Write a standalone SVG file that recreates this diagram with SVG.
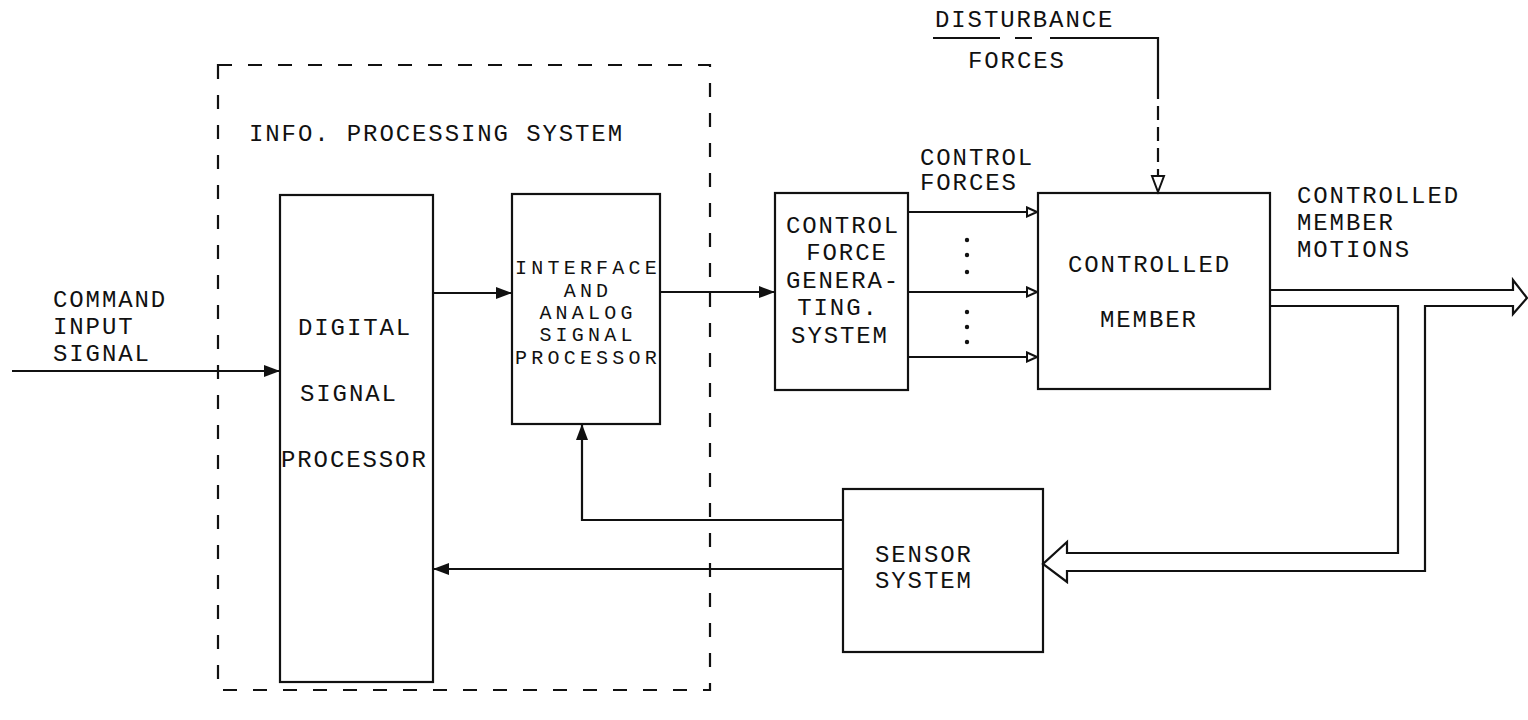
<svg xmlns="http://www.w3.org/2000/svg" width="1528" height="720" viewBox="0 0 1528 720">
  <style>
    .t { font-family: "Liberation Mono", "DejaVu Sans Mono", monospace; font-size: 24px; letter-spacing: 1.9px; fill: #111; }
    .ts { font-family: "Liberation Mono", "DejaVu Sans Mono", monospace; font-size: 20px; letter-spacing: 4.2px; fill: #111; }
    .box { fill: none; stroke: #111; stroke-width: 2.2; }
    .ln { fill: none; stroke: #111; stroke-width: 2.2; }
    .dash { fill: none; stroke: #111; stroke-width: 2.2; stroke-dasharray: 14 16; }
    .dot { fill: #111; }
  </style>
  <defs>
    <marker id="arrow" markerUnits="userSpaceOnUse" markerWidth="18" markerHeight="14" refX="17" refY="7" orient="auto">
      <path d="M1,1 L17,7 L1,13 z" fill="#111"/>
    </marker>
    <marker id="open" markerUnits="userSpaceOnUse" markerWidth="14" markerHeight="12" refX="13" refY="6" orient="auto">
      <path d="M2,1.5 L12,6 L2,10.5 z" fill="#fff" stroke="#111" stroke-width="2"/>
    </marker>
  </defs>

  <rect width="1528" height="720" fill="#fff"/>

  <g id="info-processing-system">
    <rect x="218" y="65" width="492" height="625" class="dash"/>
    <text class="t" x="249" y="141">INFO. PROCESSING SYSTEM</text>
  </g>

  <g id="digital-signal-processor">
    <rect x="280" y="195" width="153" height="487" class="box"/>
    <text class="t" x="298" y="335">DIGITAL</text>
    <text class="t" x="300" y="401">SIGNAL</text>
    <text class="t" x="281" y="467">PROCESSOR</text>
  </g>

  <g id="interface-analog">
    <rect x="512" y="194" width="148" height="230" class="box"/>
    <text class="ts" x="588" y="274" text-anchor="middle">INTERFACE</text>
    <text class="ts" x="588" y="297" text-anchor="middle">AND</text>
    <text class="ts" x="588" y="319" text-anchor="middle">ANALOG</text>
    <text class="ts" x="588" y="341" text-anchor="middle">SIGNAL</text>
    <text class="ts" x="588" y="364" text-anchor="middle">PROCESSOR</text>
  </g>

  <g id="control-force-generating-system">
    <rect x="775" y="193" width="133" height="197" class="box"/>
    <text class="t" x="843" y="233" text-anchor="middle">CONTROL</text>
    <text class="t" x="847" y="260" text-anchor="middle">FORCE</text>
    <text class="t" x="843" y="288" text-anchor="middle">GENERA-</text>
    <text class="t" x="838" y="315" text-anchor="middle">TING.</text>
    <text class="t" x="840" y="343" text-anchor="middle">SYSTEM</text>
  </g>

  <g id="controlled-member">
    <rect x="1038" y="193" width="232" height="196" class="box"/>
    <text class="t" x="1068" y="272">CONTROLLED</text>
    <text class="t" x="1100" y="327">MEMBER</text>
  </g>

  <g id="sensor-system">
    <rect x="843" y="489" width="200" height="163" class="box"/>
    <text class="t" x="875" y="562">SENSOR</text>
    <text class="t" x="875" y="588">SYSTEM</text>
  </g>

  <g id="labels">
    <text class="t" x="53" y="307">COMMAND</text>
    <text class="t" x="53" y="334">INPUT</text>
    <text class="t" x="53" y="361">SIGNAL</text>
    <text class="t" x="935" y="27">DISTURBANCE</text>
    <text class="t" x="968" y="68">FORCES</text>
    <text class="t" x="920" y="165">CONTROL</text>
    <text class="t" x="920" y="190">FORCES</text>
    <text class="t" x="1297" y="203">CONTROLLED</text>
    <text class="t" x="1297" y="230">MEMBER</text>
    <text class="t" x="1297" y="257">MOTIONS</text>
  </g>

  <g id="connectors">
    <path class="ln" d="M12,371 H280" marker-end="url(#arrow)"/>
    <path class="ln" d="M433,293 H512" marker-end="url(#arrow)"/>
    <path class="ln" d="M660,292 H775" marker-end="url(#arrow)"/>
    <path class="ln" d="M908,212 H1038" marker-end="url(#open)"/>
    <path class="ln" d="M908,292 H1038" marker-end="url(#open)"/>
    <path class="ln" d="M908,357 H1038" marker-end="url(#open)"/>
    <circle class="dot" cx="967" cy="240" r="2.2"/>
    <circle class="dot" cx="967" cy="255" r="2.2"/>
    <circle class="dot" cx="967" cy="272" r="2.2"/>
    <circle class="dot" cx="967" cy="312" r="2.2"/>
    <circle class="dot" cx="967" cy="327" r="2.2"/>
    <circle class="dot" cx="967" cy="342" r="2.2"/>
    <path class="ln" d="M933,38 H1000 M1015,38 H1032 M1050,38 H1158 V85"/>
    <path class="ln" d="M1158,85 V176" stroke-dasharray="14 7"/>
    <path d="M1152,176 L1164,176 L1158,192 z" fill="#fff" stroke="#111" stroke-width="2"/>
    <path class="ln" d="M843,520 H582 V424" marker-end="url(#arrow)"/>
    <path class="ln" d="M843,569 H433" marker-end="url(#arrow)"/>
    <path class="ln" d="M1270,290 H1513 V280 L1527,298 L1513,314 V306 H1425 V571 H1067 V582 L1043,564 L1067,542 V553 H1398 V306 H1270"/>
  </g>
</svg>
